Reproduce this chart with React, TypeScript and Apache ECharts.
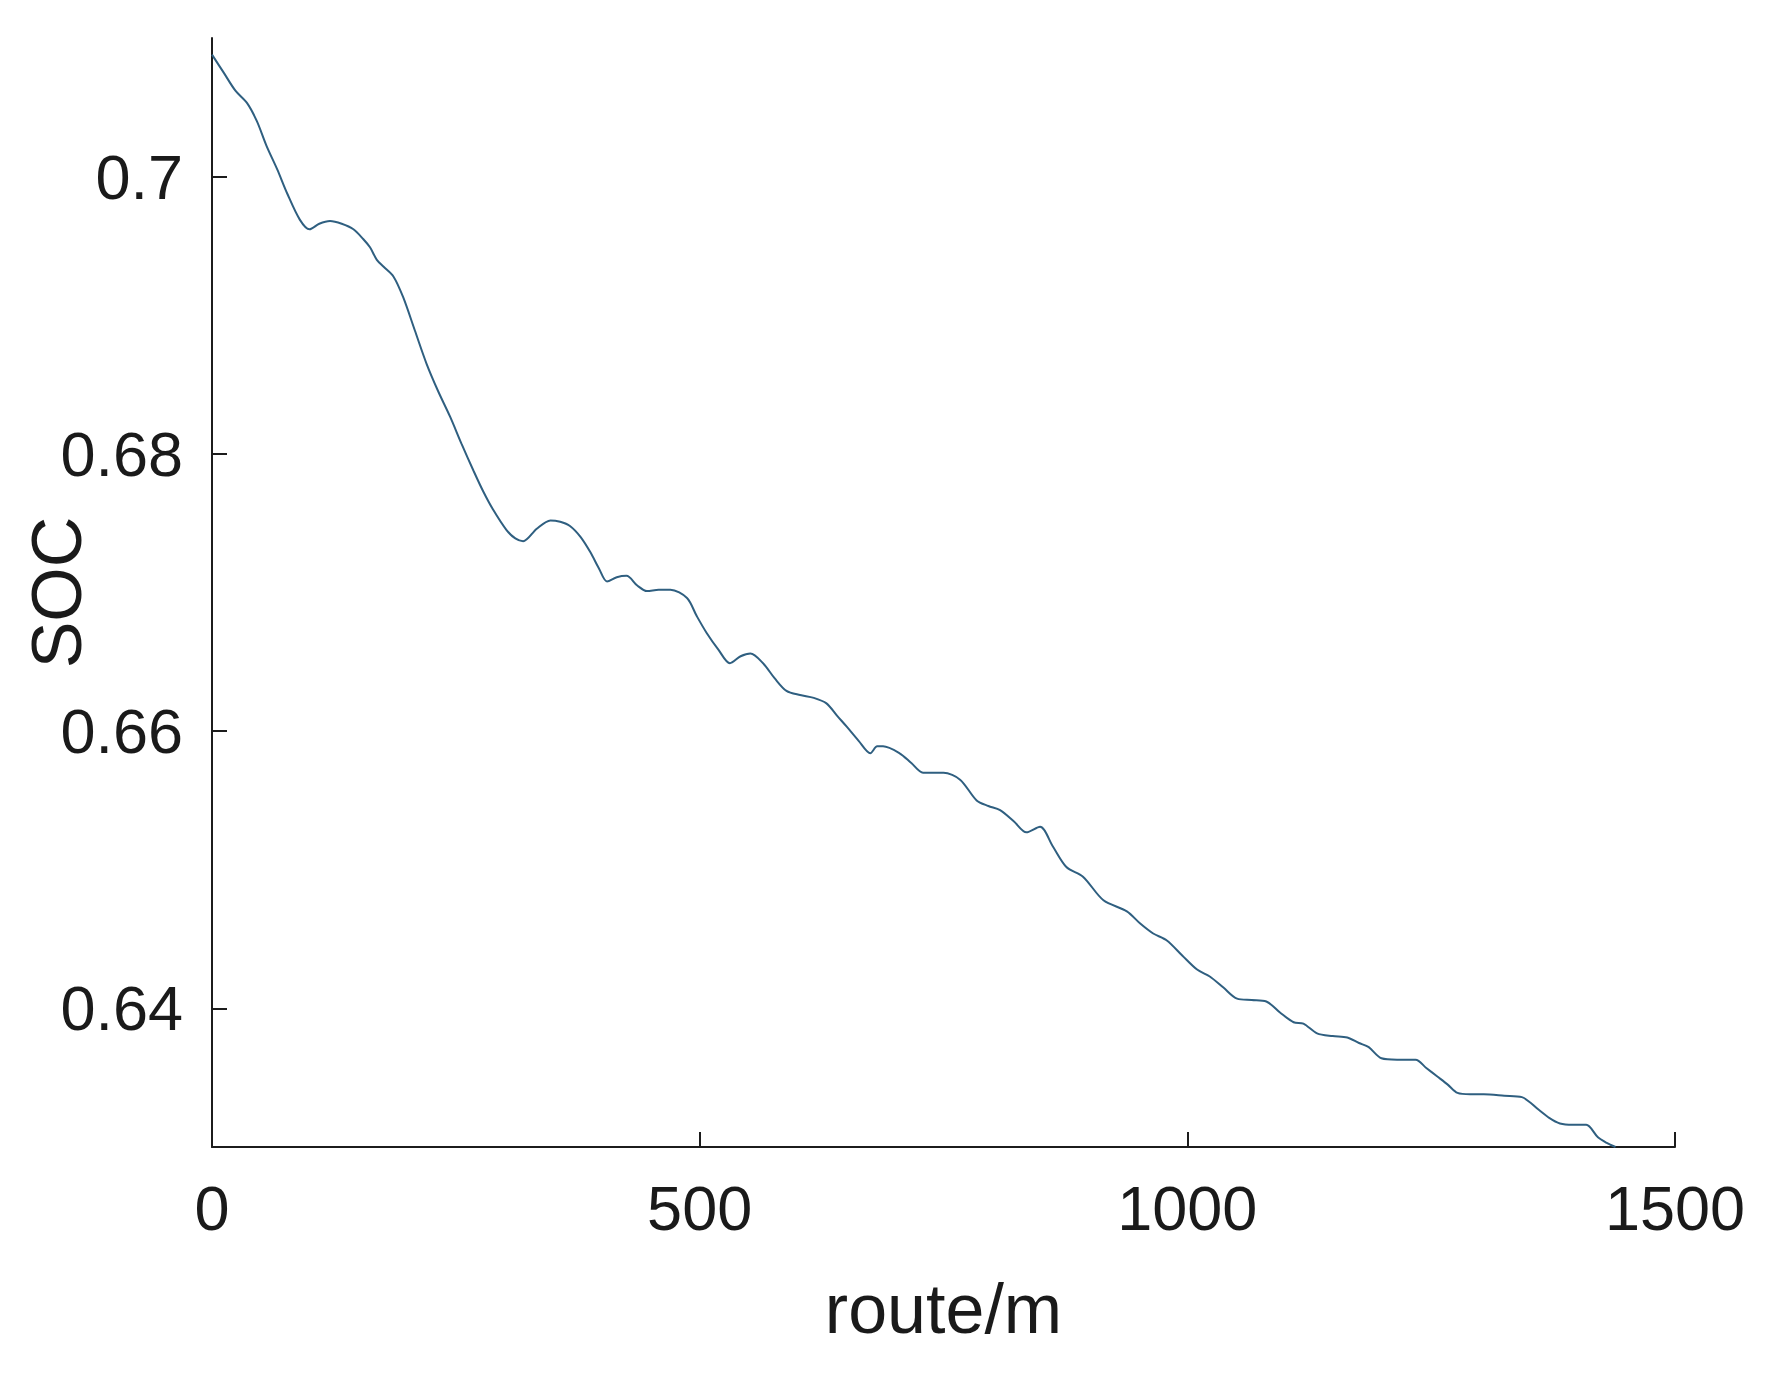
import React, { useEffect, useRef } from "react";
import * as echarts from "echarts";

// route (m)
const routeValues: number[] = [
  0, 12, 24, 36, 46, 56, 67, 77, 90, 100, 110, 121, 133, 145, 155, 162, 169, 176, 186, 196,
  208, 220, 232, 244, 256, 268, 278, 288, 302, 311, 319, 333, 347, 357, 367, 378, 388, 397, 405, 415,
  425, 436, 446, 458, 470, 487, 497, 507, 519, 531, 542, 552, 565, 577, 589, 603, 617, 630, 641, 651,
  663, 675, 682, 688, 705, 717, 729, 740, 750, 767, 784, 796, 808, 822, 835, 849, 862, 876, 893, 914,
  938, 952, 965, 979, 995, 1010, 1023, 1037, 1051, 1066, 1081, 1095, 1109, 1119, 1133, 1149, 1164, 1176, 1186, 1199,
  1215, 1234, 1245, 1256, 1267, 1277, 1290, 1304, 1325, 1343, 1360, 1371, 1382, 1395, 1409, 1421, 1430, 1439,
];

// SOC
const socValues: number[] = [
  0.7088, 0.7075, 0.7062, 0.7053, 0.704, 0.7022, 0.7005, 0.6988, 0.6969, 0.6962, 0.6966, 0.6968, 0.6966, 0.6962, 0.6955, 0.6949, 0.694, 0.6935, 0.6928, 0.6913,
  0.6889, 0.6865, 0.6845, 0.6827, 0.6807, 0.6788, 0.6773, 0.676, 0.6745, 0.6739, 0.6737, 0.6746, 0.6752, 0.6751, 0.6748, 0.674, 0.6729, 0.6717, 0.6708, 0.6711,
  0.6712, 0.6705, 0.6701, 0.6702, 0.6702, 0.6696, 0.6683, 0.6671, 0.6659, 0.6649, 0.6654, 0.6656, 0.6649, 0.6638, 0.6629, 0.6626, 0.6624, 0.662, 0.6611, 0.6603,
  0.6593, 0.6584, 0.6589, 0.6589, 0.6584, 0.6577, 0.657, 0.657, 0.657, 0.6565, 0.655, 0.6546, 0.6543, 0.6535, 0.6527, 0.6531, 0.6517, 0.6502, 0.6495, 0.6478,
  0.647, 0.6461, 0.6454, 0.6449, 0.6438, 0.6428, 0.6423, 0.6415, 0.6407, 0.6406, 0.6405, 0.6397, 0.639, 0.6389, 0.6382, 0.638, 0.6379, 0.6375, 0.6372, 0.6364,
  0.6363, 0.6363, 0.6357, 0.6351, 0.6345, 0.6339, 0.6338, 0.6338, 0.6337, 0.6336, 0.6327, 0.6321, 0.6317, 0.6316, 0.6316, 0.6307, 0.6303, 0.63,
];

const xTickValues: number[] = [0, 500, 1000, 1500];
const xTickLabels: string[] = ["0", "500", "1000", "1500"];
const yTickValues: number[] = [0.64, 0.66, 0.68, 0.7];
const yTickLabels: string[] = ["0.64", "0.66", "0.68", "0.7"];

const xName = "route/m";
const yName = "SOC";

export default function App() {
  const ref = useRef<HTMLDivElement>(null);

  useEffect(() => {
    document.body.style.margin = "0";
    if (!ref.current) return;
    const chart = echarts.init(ref.current, undefined, { renderer: "svg" });
    const font = "'Liberation Sans', Arial, sans-serif";
    const axisColor = "#1c1c1c";
    const data = routeValues.map((x, i) => [x, socValues[i]]);

    chart.setOption({
      animation: false,
      backgroundColor: "#ffffff",
      grid: {
        left: 212,
        top: 38,
        width: 1463,
        height: 1109,
        containLabel: false,
        outerBoundsMode: "none",
      },
      xAxis: {
        type: "value",
        min: 0,
        max: 1500,
        interval: 500,
        name: xName,
        nameLocation: "middle",
        nameGap: 162,
        nameMoveOverlap: false,
        nameTextStyle: { fontSize: 70, color: "#1a1a1a", fontFamily: font, verticalAlign: "middle" },
        axisLine: { show: true, onZero: false, lineStyle: { color: axisColor, width: 2 } },
        axisTick: {
          show: true,
          inside: true,
          length: 15,
          customValues: xTickValues,
          lineStyle: { color: axisColor, width: 2 },
        },
        axisLabel: {
          show: true,
          customValues: xTickValues,
          margin: 61,
          fontSize: 63,
          color: "#1a1a1a",
          fontFamily: font,
          verticalAlign: "middle",
          formatter: (v: number) => {
            const i = xTickValues.findIndex((t) => Math.abs(t - v) < 1e-6);
            return i >= 0 ? xTickLabels[i] : "";
          },
        },
        splitLine: { show: false },
      },
      yAxis: {
        type: "value",
        min: 0.63,
        max: 0.71,
        name: yName,
        nameLocation: "middle",
        nameGap: 155,
        nameRotate: 90,
        nameMoveOverlap: false,
        nameTextStyle: { fontSize: 70, color: "#1a1a1a", fontFamily: font, verticalAlign: "middle" },
        axisLine: { show: true, onZero: false, lineStyle: { color: axisColor, width: 2 } },
        axisTick: {
          show: true,
          inside: true,
          length: 15,
          customValues: yTickValues,
          lineStyle: { color: axisColor, width: 2 },
        },
        axisLabel: {
          show: true,
          customValues: yTickValues,
          margin: 29,
          fontSize: 63,
          color: "#1a1a1a",
          fontFamily: font,
          formatter: (v: number) => {
            const i = yTickValues.findIndex((t) => Math.abs(t - v) < 1e-6);
            return i >= 0 ? yTickLabels[i] : "";
          },
        },
        splitLine: { show: false },
      },
      series: [
        {
          type: "line",
          data,
          showSymbol: false,
          smooth: 0.3,
          clip: true,
          lineStyle: { color: "#2f5f80", width: 2 },
        },
      ],
    });

    return () => chart.dispose();
  }, []);

  return (
    <div
      ref={ref}
      style={{ position: "absolute", left: 0, top: 0, width: 1768, height: 1375, background: "#fff" }}
    />
  );
}
